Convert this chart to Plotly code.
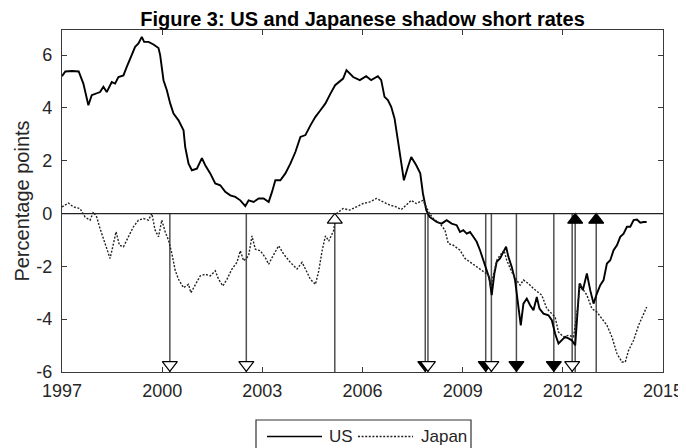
import plotly.graph_objects as go

# US shadow short rate (percentage points)
US_YEARS = [
    1997.00, 1997.10, 1997.30, 1997.50, 1997.64, 1997.79, 1997.89, 1998.14, 1998.24, 1998.34,
    1998.49, 1998.59, 1998.69, 1998.84, 1998.94, 1999.09, 1999.19, 1999.29, 1999.39, 1999.46,
    1999.59, 1999.74, 1999.89, 1999.94, 2000.04, 2000.14, 2000.24, 2000.34, 2000.49, 2000.64,
    2000.69, 2000.79, 2000.89, 2001.04, 2001.19, 2001.29, 2001.44, 2001.59, 2001.74, 2001.89,
    2002.04, 2002.19, 2002.34, 2002.49, 2002.59, 2002.74, 2002.89, 2003.04, 2003.19, 2003.29,
    2003.39, 2003.54, 2003.69, 2003.84, 2003.99, 2004.14, 2004.29, 2004.44, 2004.59, 2004.74,
    2004.89, 2005.04, 2005.18, 2005.42, 2005.52, 2005.72, 2005.92, 2006.11, 2006.26, 2006.46,
    2006.56, 2006.66, 2006.76, 2006.86, 2006.96, 2007.06, 2007.16, 2007.24, 2007.36, 2007.46,
    2007.61, 2007.73, 2007.81, 2007.91, 2008.01, 2008.07, 2008.22, 2008.37, 2008.52, 2008.67,
    2008.82, 2008.92, 2009.02, 2009.12, 2009.22, 2009.32, 2009.42, 2009.52, 2009.62, 2009.72,
    2009.80, 2009.87, 2009.95, 2010.02, 2010.12, 2010.22, 2010.30, 2010.37, 2010.47, 2010.57,
    2010.67, 2010.74, 2010.82, 2010.92, 2011.02, 2011.12, 2011.22, 2011.30, 2011.42, 2011.57,
    2011.67, 2011.77, 2011.87, 2011.97, 2012.07, 2012.17, 2012.27, 2012.37, 2012.42, 2012.50,
    2012.60, 2012.72, 2012.82, 2012.92, 2013.02, 2013.12, 2013.22, 2013.32, 2013.42, 2013.52,
    2013.62, 2013.72, 2013.82, 2013.92, 2014.02, 2014.12, 2014.22, 2014.32, 2014.42, 2014.51,
]
US_VALUES = [
    5.20, 5.38, 5.40, 5.38, 4.92, 4.10, 4.48, 4.60, 4.80, 4.60,
    4.98, 4.92, 5.17, 5.23, 5.55, 6.00, 6.31, 6.44, 6.69, 6.50,
    6.50, 6.40, 6.27, 6.00, 5.05, 4.67, 4.17, 3.79, 3.53, 3.15,
    2.52, 1.89, 1.64, 1.70, 2.10, 1.83, 1.52, 1.14, 1.07, 0.82,
    0.69, 0.63, 0.50, 0.28, 0.50, 0.44, 0.57, 0.57, 0.44, 0.82,
    1.26, 1.26, 1.52, 1.89, 2.33, 2.90, 2.97, 3.34, 3.66, 3.91,
    4.17, 4.54, 4.86, 5.11, 5.43, 5.17, 5.05, 5.20, 5.05, 5.20,
    5.05, 4.42, 4.30, 4.04, 3.60, 2.77, 1.89, 1.26, 1.76, 2.14,
    1.83, 1.52, 0.76, 0.13, -0.13, -0.19, -0.32, -0.38, -0.25, -0.38,
    -0.44, -0.70, -0.63, -0.76, -0.70, -0.88, -1.07, -1.39, -1.77, -2.10,
    -2.46, -3.09, -2.27, -1.83, -1.70, -1.45, -1.26, -1.64, -2.02, -2.53,
    -3.54, -4.23, -3.41, -3.22, -3.47, -3.66, -3.16, -3.60, -3.79, -3.85,
    -4.04, -4.55, -4.92, -4.80, -4.67, -4.73, -4.80, -4.99, -4.17, -2.65,
    -2.90, -2.27, -2.90, -3.41, -3.03, -2.71, -2.52, -1.89, -1.77, -1.39,
    -1.20, -0.88, -0.76, -0.50, -0.50, -0.25, -0.23, -0.35, -0.32, -0.32,
]

# Japanese shadow short rate
JP_YEARS = [
    1997.00, 1997.19, 1997.34, 1997.54, 1997.69, 1997.84, 1997.94, 1998.04, 1998.14, 1998.24,
    1998.34, 1998.44, 1998.52, 1998.62, 1998.72, 1998.84, 1998.99, 1999.14, 1999.29, 1999.44,
    1999.59, 1999.69, 1999.79, 1999.89, 1999.99, 2000.09, 2000.19, 2000.29, 2000.39, 2000.49,
    2000.64, 2000.79, 2000.86, 2000.99, 2001.14, 2001.29, 2001.44, 2001.59, 2001.69, 2001.82,
    2001.94, 2002.09, 2002.24, 2002.34, 2002.44, 2002.59, 2002.69, 2002.79, 2002.94, 2003.09,
    2003.19, 2003.29, 2003.49, 2003.64, 2003.84, 2004.04, 2004.19, 2004.29, 2004.44, 2004.59,
    2004.69, 2004.79, 2004.89, 2004.99, 2005.13, 2005.22, 2005.42, 2005.62, 2005.82, 2006.02,
    2006.22, 2006.42, 2006.62, 2006.82, 2007.01, 2007.16, 2007.31, 2007.46, 2007.61, 2007.81,
    2007.91, 2008.01, 2008.12, 2008.32, 2008.47, 2008.57, 2008.72, 2008.92, 2009.07, 2009.22,
    2009.37, 2009.52, 2009.67, 2009.77, 2009.84, 2009.90, 2010.02, 2010.12, 2010.24, 2010.32,
    2010.47, 2010.62, 2010.72, 2010.82, 2010.97, 2011.12, 2011.27, 2011.37, 2011.52, 2011.67,
    2011.77, 2011.87, 2012.02, 2012.17, 2012.32, 2012.42, 2012.52, 2012.62, 2012.72, 2012.87,
    2013.02, 2013.17, 2013.32, 2013.47, 2013.62, 2013.77, 2013.87, 2013.97, 2014.12, 2014.27,
    2014.42, 2014.51,
]
JP_VALUES = [
    0.25, 0.40, 0.25, 0.19, -0.13, -0.25, 0.06, -0.13, -0.57, -0.95,
    -1.26, -1.70, -1.26, -0.69, -1.20, -1.26, -0.88, -0.50, -0.25, -0.19,
    -0.25, 0.00, -0.63, -0.88, -0.25, -0.69, -1.01, -1.51, -2.15, -2.49,
    -2.81, -2.68, -3.00, -2.68, -2.36, -2.30, -2.36, -2.17, -2.49, -2.74,
    -2.49, -2.10, -1.85, -1.41, -1.79, -1.60, -0.85, -1.35, -1.41, -1.67,
    -1.92, -1.67, -1.22, -1.54, -1.85, -2.10, -1.85, -2.10, -2.49, -2.68,
    -2.17, -1.41, -0.85, -1.04, -0.66, 0.00, 0.19, 0.13, 0.25, 0.38,
    0.44, 0.57, 0.44, 0.32, 0.25, 0.15, 0.32, 0.50, 0.38, 0.50,
    0.25, 0.00, -0.19, -0.38, -0.63, -1.14, -1.20, -1.39, -1.70, -1.83,
    -1.96, -2.08, -2.21, -2.33, -2.78, -2.40, -1.77, -1.58, -1.39, -1.77,
    -2.21, -2.53, -2.71, -2.52, -2.65, -2.84, -2.97, -3.09, -3.60, -3.79,
    -3.92, -4.49, -4.67, -4.61, -4.67, -3.79, -2.65, -2.90, -3.09, -3.60,
    -3.73, -3.98, -4.23, -4.67, -5.30, -5.62, -5.62, -5.18, -4.80, -4.23,
    -3.79, -3.54,
]

# Event dates with arrow direction and fill (filled vs open triangle)
EVENT_DATES = [2000.23, 2002.52, 2005.17, 2007.88, 2007.96, 2009.69, 2009.86,
               2010.61, 2011.73, 2012.28, 2012.37, 2013.00]
EVENT_DIRECTION = ["down", "down", "up", "down", "down", "down", "down",
                   "down", "down", "down", "up", "up"]
EVENT_FILLED = [False, False, False, True, False, True, False,
                True, True, False, True, True]

X_TICKS = [1997, 2000, 2003, 2006, 2009, 2012, 2015]
Y_TICKS = [-6, -4, -2, 0, 2, 4, 6]
Y_TICK_TEXT = ["-6", "-4", "-2", "0", "2", "4", "6"]
Y_MIN, Y_MAX = -6, 6.95

FONT = "Arial, 'Liberation Sans', sans-serif"
AXIS_COLOR = "#3a3a3a"
TEXT_COLOR = "#262626"
JP_DASH = "2px,1.6px"

# the page body has an 8px margin, so the figure is shrunk by that much and
# the left/top margins are reduced to keep the plot where the reference has it
OFFSET = 8
W, H = 686 - OFFSET, 448 - OFFSET
M = dict(l=62 - OFFSET, r=23, t=30 - OFFSET, b=76)
PW, PH = W - M["l"] - M["r"], H - M["t"] - M["b"]


def px(x):
    """page pixel column -> paper x"""
    return (x - OFFSET - M["l"]) / PW


def py(y):
    """page pixel row -> paper y"""
    return (H - M["b"] - (y - OFFSET)) / PH


fig = go.Figure()

# vertical event lines, from the zero line down to the bottom axis
vx, vy = [], []
for d in EVENT_DATES:
    vx += [d, d, None]
    vy += [0, Y_MIN, None]
fig.add_trace(go.Scatter(x=vx, y=vy, mode="lines", showlegend=False,
                         line=dict(color="#505050", width=1.5), hoverinfo="skip"))

fig.add_trace(go.Scatter(x=US_YEARS, y=US_VALUES, mode="lines", name="US",
                         line=dict(color="black", width=1.9)))
fig.add_trace(go.Scatter(x=JP_YEARS, y=JP_VALUES, mode="lines", name="Japan",
                         line=dict(color="#222222", width=1.4, dash=JP_DASH)))

fig.add_hline(y=0, line=dict(color="#222222", width=1.3))

# triangles: down ones sit on the bottom axis, up ones hang under the zero line
for direction, y_pos in (("down", Y_MIN + 0.27), ("up", -0.24)):
    for filled in (True, False):
        xs = [d for d, dr, f in zip(EVENT_DATES, EVENT_DIRECTION, EVENT_FILLED)
              if dr == direction and f == filled]
        if not xs:
            continue
        fig.add_trace(go.Scatter(
            x=xs, y=[y_pos] * len(xs), mode="markers", showlegend=False, hoverinfo="skip",
            marker=dict(symbol=f"triangle-{direction}", size=13,
                        color="black" if filled else "white",
                        line=dict(color="black", width=1.2))))

# boxed legend below the plot, drawn by hand so the line samples are long
leg_y = py(436.5)
fig.add_shape(type="rect", xref="paper", yref="paper", x0=px(256), x1=px(471),
              y0=py(420), y1=py(458), line=dict(color="#333333", width=1.2),
              fillcolor="white", layer="above")
fig.add_shape(type="line", xref="paper", yref="paper", x0=px(267), x1=px(322),
              y0=leg_y, y1=leg_y, line=dict(color="black", width=1.6))
fig.add_shape(type="line", xref="paper", yref="paper", x0=px(358), x1=px(413),
              y0=leg_y, y1=leg_y, line=dict(color="#222222", width=1.3, dash=JP_DASH))
for label, x_left in (("US", 327), ("Japan", 419)):
    fig.add_annotation(text=label, xref="paper", yref="paper", x=px(x_left), y=leg_y,
                       xanchor="left", yanchor="middle", showarrow=False,
                       font=dict(family=FONT, size=17, color=TEXT_COLOR))

axis_common = dict(showline=True, linecolor=AXIS_COLOR, linewidth=1.3, mirror="ticks",
                   ticks="inside", ticklen=5, tickcolor=AXIS_COLOR, tickwidth=1.2,
                   showgrid=False, zeroline=False, automargin=False,
                   tickfont=dict(family=FONT, size=18, color=TEXT_COLOR))

fig.update_layout(
    width=W, height=H,
    margin=M,
    paper_bgcolor="white", plot_bgcolor="white",
    font=dict(family=FONT, color=TEXT_COLOR),
    showlegend=False,
    title=dict(text="<b>Figure 3: US and Japanese shadow short rates</b>",
               xref="paper", x=0.5, xanchor="center",
               yref="container", y=1, yanchor="top", pad=dict(t=4),
               font=dict(family=FONT, size=20, color="black")),
    xaxis=dict(range=[1997, 2015], tickvals=X_TICKS, ticklabelstandoff=2, **axis_common),
    yaxis=dict(range=[Y_MIN, Y_MAX], tickvals=Y_TICKS, ticktext=Y_TICK_TEXT,
               ticklabelstandoff=5,
               title=dict(text="Percentage points", standoff=1,
                          font=dict(family=FONT, size=20, color=TEXT_COLOR)),
               **axis_common),
)

fig.write_html("out.html")
